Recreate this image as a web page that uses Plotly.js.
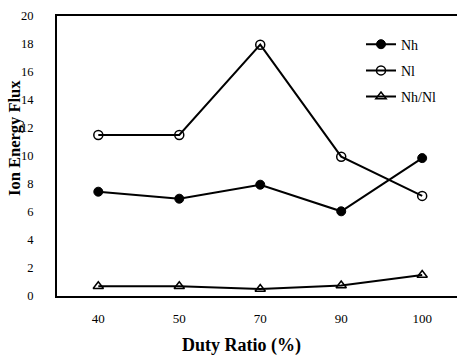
<!DOCTYPE html>
<html><head><meta charset="utf-8">
<script src="https://cdn.plot.ly/plotly-3.0.1.min.js"></script>
<style>html,body{margin:0;padding:0;background:#fff;overflow:hidden}</style>
</head><body>
<div id="chart" style="width:457px;height:360px"></div>
<script>
const categories = ['40', '50', '70', '90', '100'];
const nh = [7.45, 6.95, 7.95, 6.05, 9.85];
const nl = [11.5, 11.5, 17.95, 9.95, 7.15];
const nhnl = [0.7, 0.7, 0.5, 0.75, 1.5];
const yTicks = [0, 2, 4, 6, 8, 10, 12, 14, 16, 18, 20];
const xTitle = 'Duty Ratio (%)';
const yTitle = 'Ion Energy Flux';

const serif = 'Liberation Serif, Times New Roman, serif';
const line = {color: '#000', width: 2};
const traces = [
  {x: categories, y: nh, name: 'Nh', legendgroup: 'a', mode: 'lines+markers', line: line,
   marker: {symbol: 'circle', size: 9, color: '#000', line: {color: '#000', width: 1}}},
  {x: categories, y: nl, name: 'Nl', legendgroup: 'b', mode: 'lines+markers', line: line,
   marker: {symbol: 'circle-open', size: 9, color: '#000', line: {color: '#000', width: 1.5}}},
  {x: categories, y: nhnl, name: 'Nh/Nl', legendgroup: 'c', mode: 'lines+markers', line: line,
   marker: {symbol: 'triangle-up-open', size: 9, color: '#000', line: {color: '#000', width: 1.5}}}
];
const layout = {
  width: 457, height: 360,
  margin: {l: 57, r: 0, t: 16, b: 64},
  paper_bgcolor: '#fff', plot_bgcolor: '#fff',
  font: {family: serif, color: '#000', size: 11},
  showlegend: true,
  legend: {x: 0.76, y: 0.955, xanchor: 'left', yanchor: 'top', bgcolor: 'rgba(0,0,0,0)',
           font: {family: serif, size: 14, color: '#000'}, tracegroupgap: 5},
  xaxis: {type: 'category', range: [-0.51, 4.43], showgrid: false, zeroline: false,
          showline: true, linecolor: '#000', linewidth: 2, mirror: true, ticks: '',
          ticklabelstandoff: 9,
          tickfont: {family: serif, size: 13, color: '#000'}},
  yaxis: {range: [0, 20], tickvals: yTicks, showgrid: false, zeroline: false,
          showline: true, linecolor: '#000', linewidth: 2, ticks: '',
          ticklabelstandoff: 19,
          tickfont: {family: serif, size: 12.5, color: '#000'}},
  annotations: [
    {text: '<b>' + xTitle + '</b>', xref: 'paper', yref: 'paper',
     xanchor: 'center', yanchor: 'middle', showarrow: false,
     font: {family: serif, size: 18, color: '#000'}},
    {text: '<b>' + yTitle + '</b>', xref: 'paper', yref: 'paper',
     xanchor: 'center', yanchor: 'middle', textangle: -90, showarrow: false,
     font: {family: serif, size: 16.5, color: '#000'}}
  ]
};
layout.annotations[0].x = (241 - 57) / 400;
layout.annotations[0].y = (296 - 345) / 280;
layout.annotations[1].x = (14 - 57) / 400;
layout.annotations[1].y = (296 - 138) / 280;
Plotly.newPlot('chart', traces, layout, {displayModeBar: false, staticPlot: true});
</script>
</body></html>
